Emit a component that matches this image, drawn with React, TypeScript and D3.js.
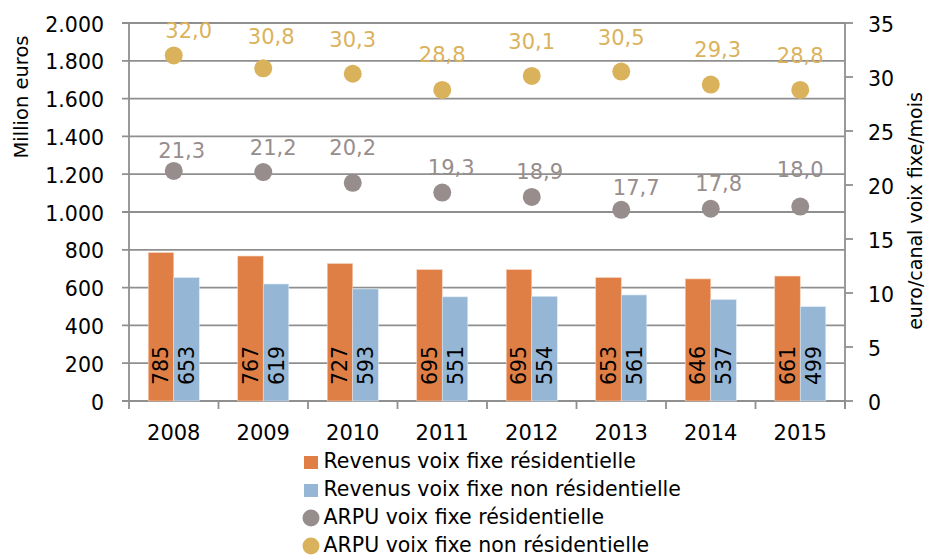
import React from "react";
import * as d3 from "d3";

const years = ["2008", "2009", "2010", "2011", "2012", "2013", "2014", "2015"];
const revenusResidentiel = [785, 767, 727, 695, 695, 653, 646, 661];
const revenusNonResidentiel = [653, 619, 593, 551, 554, 561, 537, 499];
const arpuResidentiel = [21.3, 21.2, 20.2, 19.3, 18.9, 17.7, 17.8, 18.0];
const arpuNonResidentiel = [32.0, 30.8, 30.3, 28.8, 30.1, 30.5, 29.3, 28.8];
const leftTicks = [0, 200, 400, 600, 800, 1000, 1200, 1400, 1600, 1800, 2000];
const rightTicks = [0, 5, 10, 15, 20, 25, 30, 35];
const legendLabels = [
  "Revenus voix fixe résidentielle",
  "Revenus voix fixe non résidentielle",
  "ARPU voix fixe résidentielle",
  "ARPU voix fixe non résidentielle",
];

// label layout nudges (dx, height of baseline above dot centre)
const resLabelDx = [8, 10, 0, 9, 8, 15, 8, 0];
const resLabelRise = [13, 17, 28, 18, 18, 15, 18, 30];
const nonResLabelDx = [15, 8, 0, 0, 0, 0, 7, 0];
const nonResLabelRise = [17, 24, 27, 28, 27, 27, 28, 27];

const C_ORANGE = "#DF7F46";
const C_BLUE = "#95B6D4";
const C_GRAY = "#978D8D";
const C_GOLD = "#DBB25C";
const C_GRID = "#8f8f8f";
const FONT = "'DejaVu Sans', sans-serif";

const fmt = (v: number) => v.toFixed(1).replace(".", ",");
const fmtThousands = (v: number) => d3.format(",")(v).replace(/,/g, ".");

export default function App() {
  const W = 929, H = 557;
  const x0 = 129, x1 = 845, yTop = 23, yBot = 401;

  const x = d3.scaleBand<string>().domain(years).range([x0, x1]).paddingInner(0.43).paddingOuter(0.215);
  const xs = d3.scaleBand<string>().domain(["r", "n"]).range([0, x.bandwidth()]);
  const yL = d3.scaleLinear().domain([0, 2000]).range([yBot, yTop]);
  const yR = d3.scaleLinear().domain([0, 35]).range([yBot, yTop]);
  const step = (x1 - x0) / years.length;
  const cx = (i: number) => (x(years[i]) as number) + x.bandwidth() / 2;

  return (
    <svg width={W} height={H} style={{ position: "absolute", left: 0, top: 0, display: "block", background: "#fff" }} fontFamily={FONT}>
      {/* gridlines */}
      {leftTicks.map((t) => (
        <g key={"g" + t}>
          <line x1={x0 - 7} x2={x1} y1={yL(t)} y2={yL(t)} stroke={C_GRID} strokeWidth={1.8} />
          <text x={104} y={yL(t) + 8.5} textAnchor="end" fontSize={20.5} fill="#000">
            {fmtThousands(t)}
          </text>
        </g>
      ))}
      {/* axes */}
      <line x1={x0} x2={x0} y1={yTop} y2={yBot + 8} stroke={C_GRID} strokeWidth={1.8} />
      <line x1={x1} x2={x1} y1={yTop} y2={yBot + 8} stroke={C_GRID} strokeWidth={1.8} />
      {years.map((_, i) => (
        <line key={"xt" + i} x1={x0 + step * (i + 1)} x2={x0 + step * (i + 1)} y1={yBot} y2={yBot + 8} stroke={C_GRID} strokeWidth={1.8} />
      ))}
      {rightTicks.map((t) => (
        <g key={"r" + t}>
          <line x1={x1} x2={x1 + 8} y1={yR(t)} y2={yR(t)} stroke={C_GRID} strokeWidth={1.8} />
          <text x={868} y={yR(t) + 8.7} textAnchor="start" fontSize={20.5} fill="#000">
            {t}
          </text>
        </g>
      ))}
      {/* bars */}
      {years.map((yr, i) => {
        const bx = x(yr) as number;
        const rX = bx + (xs("r") as number);
        const nX = bx + (xs("n") as number);
        const bw = xs.bandwidth();
        return (
          <g key={"b" + yr}>
            <rect x={rX} y={yL(revenusResidentiel[i])} width={bw} height={yBot - yL(revenusResidentiel[i])} fill={C_ORANGE} stroke="#f6d2bb" strokeWidth={0.6} />
            <rect x={nX} y={yL(revenusNonResidentiel[i])} width={bw} height={yBot - yL(revenusNonResidentiel[i])} fill={C_BLUE} stroke="#dce8f2" strokeWidth={0.6} />
            <text transform={`translate(${rX + bw / 2 + 7.5},${yBot - 16}) rotate(-90)`} fontSize={20.5} fill="#000">
              {revenusResidentiel[i]}
            </text>
            <text transform={`translate(${nX + bw / 2 + 7.5},${yBot - 16}) rotate(-90)`} fontSize={20.5} fill="#000">
              {revenusNonResidentiel[i]}
            </text>
            <text x={cx(i)} y={439.5} textAnchor="middle" fontSize={21} fill="#000">
              {yr}
            </text>
          </g>
        );
      })}
      {/* dots */}
      {years.map((yr, i) => (
        <g key={"d" + yr}>
          <circle cx={cx(i)} cy={yR(arpuResidentiel[i])} r={9} fill={C_GRAY} />
          <text x={cx(i) + resLabelDx[i]} y={yR(arpuResidentiel[i]) - resLabelRise[i]} textAnchor="middle" fontSize={21} fill={C_GRAY}>
            {fmt(arpuResidentiel[i])}
          </text>
          <circle cx={cx(i)} cy={yR(arpuNonResidentiel[i])} r={9} fill={C_GOLD} />
          <text x={cx(i) + nonResLabelDx[i]} y={yR(arpuNonResidentiel[i]) - nonResLabelRise[i]} textAnchor="middle" fontSize={21} fill={C_GOLD}>
            {fmt(arpuNonResidentiel[i])}
          </text>
        </g>
      ))}
      {/* axis titles */}
      <text transform={`translate(28,97) rotate(-90)`} textAnchor="middle" fontSize={19.5} fill="#000">
        Million euros
      </text>
      <text transform={`translate(922,211) rotate(-90)`} textAnchor="middle" fontSize={19} fill="#000">
        euro/canal voix fixe/mois
      </text>
      {/* legend */}
      {legendLabels.map((lab, i) => {
        const by = 468 + i * 28;
        return (
          <g key={"l" + i}>
            {i < 2 ? (
              <rect x={304} y={by - 12} width={14} height={13} fill={i === 0 ? C_ORANGE : C_BLUE} />
            ) : (
              <circle cx={311} cy={by - 6} r={8.5} fill={i === 2 ? C_GRAY : C_GOLD} />
            )}
            <text x={323.5} y={by} fontSize={20.5} fill="#000">
              {lab}
            </text>
          </g>
        );
      })}
    </svg>
  );
}
